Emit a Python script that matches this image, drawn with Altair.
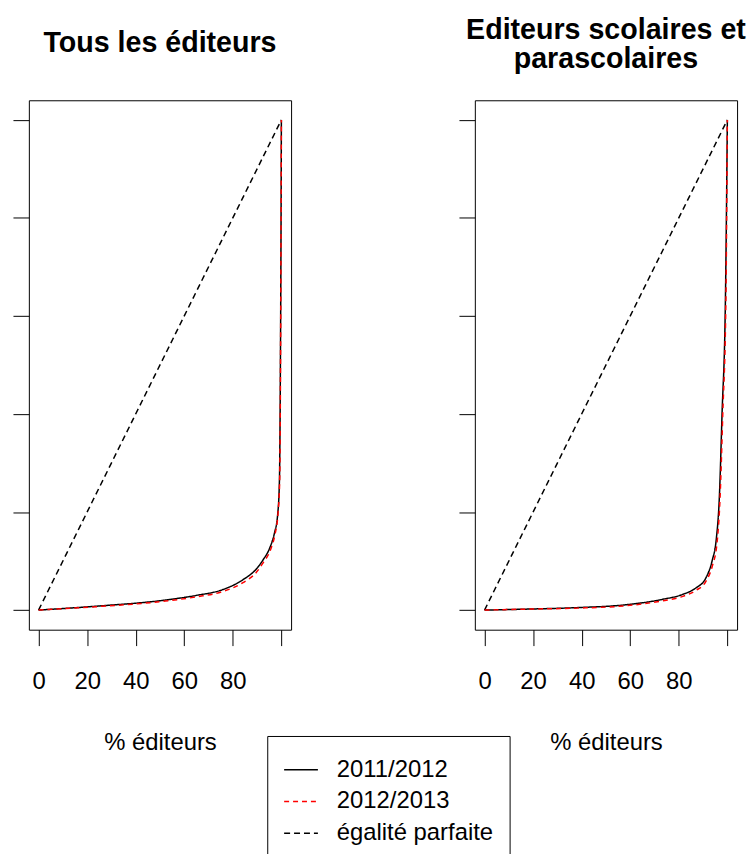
import altair as alt
import pandas as pd

series_names = ["2011/2012", "2012/2013", "égalité parfaite"]
series_colors = ["black", "red", "black"]
series_dashes = [[1, 0], [5, 4], [6, 4]]

x_ticks = [0, 20, 40, 60, 80, 100]

# Panel 1 : Tous les éditeurs (cumulative % éditeurs vs cumulative % CA)
p1_x_2011 = [0, 24, 51.5, 65, 76, 84.2, 89.7, 92.4, 95.4, 97.1, 98.5, 99.2, 99.6, 99.9, 100]
p1_y_2011 = [0, 0.8, 2.0, 3.0, 4.2, 6.2, 8.4, 10.2, 12.9, 15.6, 19.6, 26.4, 50, 83.5, 100]
p1_x_2012 = [0, 24, 51.5, 65, 76, 84.2, 89.7, 92.4, 95.6, 97.3, 98.6, 99.3, 99.65, 99.9, 100]
p1_y_2012 = [0, 0.7, 1.8, 2.7, 3.8, 5.6, 7.7, 9.6, 12.4, 15.3, 19.6, 26.4, 50, 83.5, 100]

# Panel 2 : Editeurs scolaires et parascolaires
p2_x_2011 = [0, 17.7, 38, 58.5, 73.4, 81.6, 87, 91.1, 93.8, 95.4, 96.7, 97.8, 99.2, 100]
p2_y_2011 = [0, 0.2, 0.5, 1.1, 2.2, 3.2, 4.5, 6.5, 10.2, 14.3, 23, 39.8, 63.3, 100]
p2_x_2012 = [0, 17.7, 38, 58.5, 73.4, 81.6, 87, 91.1, 93.8, 95.7, 97.0, 98.1, 99.4, 100]
p2_y_2012 = [0, 0.2, 0.4, 0.9, 1.9, 2.8, 4.0, 5.8, 9.0, 13.5, 23, 39.8, 63.3, 100]

eq_x = [0, 100]
eq_y = [0, 100]

FONT = "Liberation Sans"


def make_df(x11, y11, x12, y12):
    rows = []
    for x, y in zip(eq_x, eq_y):
        rows.append({"x": x, "y": y, "serie": series_names[2]})
    for x, y in zip(x11, y11):
        rows.append({"x": x, "y": y, "serie": series_names[0]})
    for x, y in zip(x12, y12):
        rows.append({"x": x, "y": y, "serie": series_names[1]})
    return pd.DataFrame(rows)


legend = alt.Legend(
    orient="none", legendX=240, legendY=640, title=None,
    strokeColor="black", fillColor="white", padding=16, cornerRadius=0,
    labelFontSize=24, labelFont=FONT, labelColor="black", labelLimit=400,
    labelOffset=18, rowPadding=2, symbolType="stroke", symbolSize=1156,
    symbolStrokeWidth=1.5,
)


def panel(df, title):
    color = alt.Color("serie:N", scale=alt.Scale(domain=series_names, range=series_colors), legend=legend)
    dash = alt.StrokeDash("serie:N", scale=alt.Scale(domain=series_names, range=series_dashes), legend=legend)
    x = alt.X("x:Q", scale=alt.Scale(domain=[-4, 104], nice=False, zero=False),
              axis=alt.Axis(values=x_ticks, labelExpr="datum.value == 100 ? '' : datum.label",
                            title="% éditeurs", grid=False, domain=False, tickSize=16,
                            tickColor="black", labelFontSize=24, labelFont=FONT, labelColor="black",
                            labelPadding=24, titleFontSize=24, titleFont=FONT, titleFontWeight="normal",
                            titleColor="black", titlePadding=38, labelFlush=False))
    y = alt.Y("y:Q", scale=alt.Scale(domain=[-4, 104], nice=False, zero=False),
              axis=alt.Axis(values=x_ticks, labels=False, title=None, grid=False, domain=False,
                            tickSize=16, tickColor="black"))
    base = alt.Chart(df)
    layers = []
    for s in [series_names[2], series_names[0], series_names[1]]:
        layers.append(
            base.transform_filter(alt.datum.serie == s)
            .mark_line(strokeWidth=1.5, interpolate="monotone")
            .encode(x=x, y=y, color=color, strokeDash=dash)
        )
    return alt.layer(*layers).properties(width=264, height=533, title=title)


t1 = alt.TitleParams(text="Tous les éditeurs", fontSize=28.8, fontWeight="bold", font=FONT,
                     color="black", baseline="alphabetic", offset=20, anchor="middle")
t2 = alt.TitleParams(text=["Editeurs scolaires et", "parascolaires"], fontSize=28.8, fontWeight="bold",
                     font=FONT, color="black", baseline="alphabetic", offset=4, lineHeight=29,
                     anchor="middle")

c1 = panel(make_df(p1_x_2011, p1_y_2011, p1_x_2012, p1_y_2012), t1)
c2 = panel(make_df(p2_x_2011, p2_y_2011, p2_x_2012, p2_y_2012), t2)

chart = (
    alt.hconcat(c1, c2, spacing=185, bounds="flush")
    .properties(padding={"left": 4, "top": 4, "right": 0, "bottom": 0})
    .configure(font=FONT, background="white")
    .configure_view(stroke="black", strokeWidth=1)
)

chart.save("out.html", embed_options={"renderer": "svg", "actions": False})
